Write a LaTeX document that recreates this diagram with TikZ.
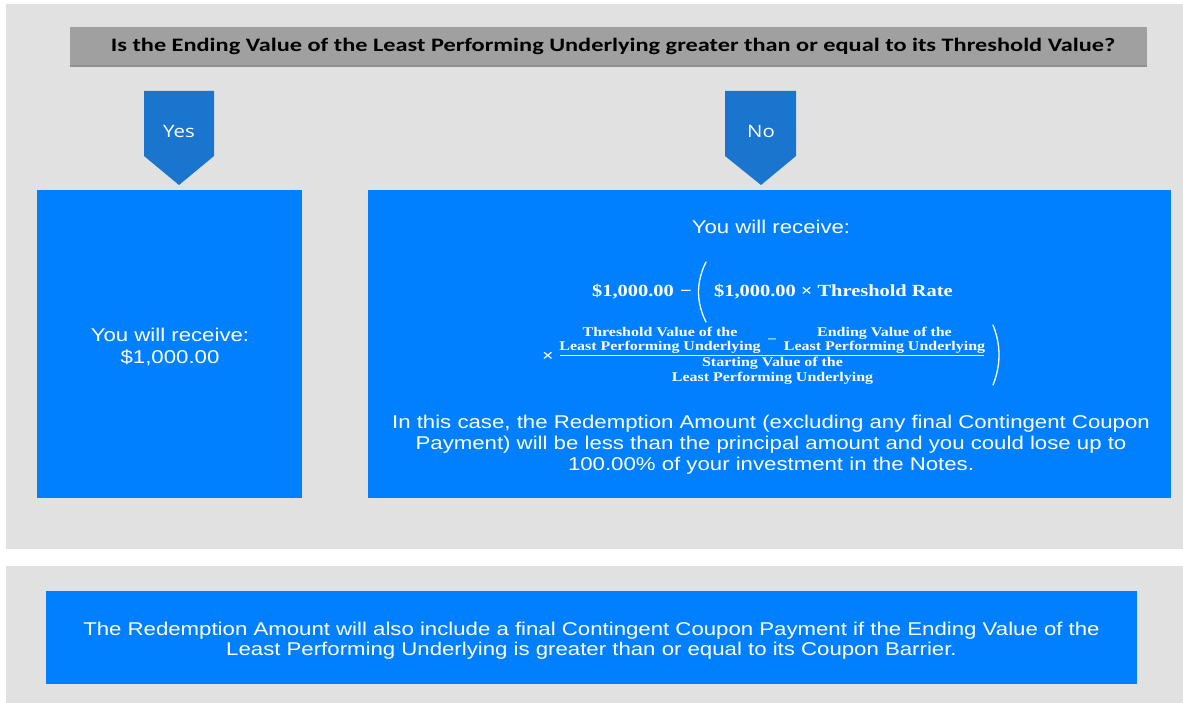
\documentclass[tikz,border=0pt]{standalone}
\usepackage{fontspec}
\newfontfamily\arialf{Liberation Sans}[FakeStretch=1.2]
\newfontfamily\calf{Carlito}[FakeStretch=1.28]
\newfontfamily\lblf{Open Sans}[FakeStretch=1.2]
\newfontfamily\serf{Liberation Serif}[FakeStretch=1.2]
\definecolor{panelgray}{HTML}{E1E1E1}
\definecolor{bargray}{HTML}{A0A0A0}
\definecolor{barshadow}{HTML}{909090}
\definecolor{boxblue}{HTML}{0080FF}
\definecolor{arrowblue}{HTML}{1A75CF}
\begin{document}
\begin{tikzpicture}[x=1pt,y=-1pt,
  panel/.style={fill=panelgray},
  bluebox/.style={fill=boxblue},
  wtext/.style={text=white, font=\arialf\fontsize{18.5}{21.3}\selectfont, align=center, inner sep=0pt},
  lbl/.style={text=white, font=\lblf\fontsize{17}{20}\selectfont, inner sep=0pt, anchor=base},
  fbig/.style={text=white, font=\serf\bfseries\fontsize{17}{20}\selectfont, inner sep=0pt, anchor=base},
  fsmall/.style={text=white, font=\serf\bfseries\fontsize{13.3}{15}\selectfont, inner sep=0pt, anchor=base},
  paren/.style={draw=white, line width=1.3pt, line cap=round}
]
\useasboundingbox (0,0) rectangle (1183,703);
\fill[white] (0,0) rectangle (1183,703);
% panels
\fill[panel] (6,4) rectangle (1183,549);
\fill[panel] (6,566) rectangle (1183,703);
% header bar
\fill[bargray] (70,27) rectangle (1147,67);
\fill[barshadow] (70,65.5) rectangle (1147,67);
\node[font=\calf\bfseries\fontsize{19}{22}\selectfont, text=black, inner sep=0pt, anchor=base] (question) at (613,52)
  {Is the Ending Value of the Least Performing Underlying greater than or equal to its Threshold Value?};
% arrow labels
\fill[arrowblue] (144,91) -- (214,91) -- (214,156) -- (179,185) -- (144,156) -- cycle;
\fill[arrowblue] (725,91) -- (796,91) -- (796,156) -- (761,185) -- (725,156) -- cycle;
\node[lbl] (yes) at (179,137.5) {Yes};
\node[lbl] (no) at (761,137.5) {No};
% blue boxes
\fill[bluebox] (37,190) rectangle (302,498);
\fill[bluebox] (368,190) rectangle (1171,498);
\fill[bluebox] (46,591) rectangle (1137,684);
% left box text
\node[wtext] (yestext) at (170,347) {You will receive:\\\$1,000.00};
% right box text
\node[wtext, anchor=base] (notitle) at (771,234) {You will receive:};
\node[fbig] (f1) at (633,297) {\$1,000.00};
\node[fbig] (fminus) at (686,297) {−};
\draw[paren] (706,262) .. controls (696,282) and (696,302) .. (706,322);
\node[fbig, anchor=base west] (f2) at (714,297) {\$1,000.00 × Threshold Rate};
\node[fbig] (ftimes) at (548,361) {×};
\node[fsmall] (na1) at (660,336) {Threshold Value of the};
\node[fsmall] (na2) at (660,350.5) {Least Performing Underlying};
\node[fsmall] (nminus) at (772,342) {–};
\node[fsmall] (nb1) at (884.5,336) {Ending Value of the};
\node[fsmall] (nb2) at (884.5,350.5) {Least Performing Underlying};
\draw[white, line width=0.9pt] (560,355) -- (984,355);
\node[fsmall] (d1) at (772.5,366.5) {Starting Value of the};
\node[fsmall] (d2) at (772.5,381) {Least Performing Underlying};
\draw[paren] (993,325) .. controls (1001,345) and (1001,365) .. (993,385);
\node[wtext] (notext) at (771,444.7) {In this case, the Redemption Amount (excluding any final Contingent Coupon\\Payment) will be less than the principal amount and you could lose up to\\100.00\% of your investment in the Notes.};
% bottom box text
\node[wtext, font=\arialf\fontsize{18.5}{20}\selectfont] (bottomtext) at (591.5,640.5) {The Redemption Amount will also include a final Contingent Coupon Payment if the Ending Value of the\\Least Performing Underlying is greater than or equal to its Coupon Barrier.};
\end{tikzpicture}
\end{document}
